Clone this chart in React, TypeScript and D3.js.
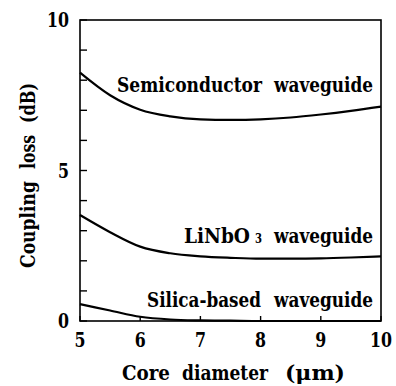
import React from "react";
import * as d3 from "d3";

const diameters = [5, 5.5, 6, 6.5, 7, 7.5, 8, 8.5, 9, 9.5, 10];
const semiconductorLoss = [8.25, 7.5, 7.02, 6.8, 6.7, 6.68, 6.7, 6.76, 6.86, 6.98, 7.12];
const linbo3Loss = [3.52, 2.95, 2.47, 2.25, 2.15, 2.1, 2.07, 2.07, 2.08, 2.11, 2.15];
const silicaLoss = [0.56, 0.35, 0.14, 0.05, 0.02, 0.01, 0, 0, 0, 0, 0];
const xTicks = [5, 6, 7, 8, 9, 10];
const yTicks = [0, 1, 2, 3, 4, 5, 6, 7, 8, 9, 10];
const yTickLabels = [0, 5, 10];

const FONT = "'DejaVu Serif Condensed', 'DejaVu Serif', serif";
const FS = 20;

function Word(props: { x: number; y: number; len: number; size?: number; anchor?: string; children: React.ReactNode }) {
  return (
    <text
      x={props.x}
      y={props.y}
      fontSize={props.size ?? FS}
      textLength={props.len}
      lengthAdjust="spacingAndGlyphs"
      textAnchor={props.anchor ?? "start"}
      style={{ fontFamily: FONT, fontWeight: 700 }}
    >
      {props.children}
    </text>
  );
}

export default function App() {
  const left = 80, right = 381, top = 20, bottom = 321;
  const x = d3.scaleLinear().domain([5, 10]).range([left, right]);
  const y = d3.scaleLinear().domain([0, 10]).range([bottom, top]);
  const line = d3
    .line<number>()
    .x((_, i) => x(diameters[i]))
    .y((d) => y(d))
    .curve(d3.curveMonotoneX);
  const series = [semiconductorLoss, linbo3Loss, silicaLoss];

  return (
    <svg width={396} height={386} style={{ position: "absolute", left: 0, top: 0, background: "#fff" }}>
      <rect x={0} y={0} width={396} height={386} fill="#fff" />
      <rect x={left} y={top} width={right - left} height={bottom - top} fill="none" stroke="#000" strokeWidth={1.6} />
      {yTicks.map((t) => (
        <line key={"yt" + t} x1={left} x2={left + 7} y1={y(t)} y2={y(t)} stroke="#000" strokeWidth={1.4} />
      ))}
      {xTicks.map((t) => (
        <line key={"xt" + t} x1={x(t)} x2={x(t)} y1={bottom} y2={bottom - 5} stroke="#000" strokeWidth={1.4} />
      ))}
      {yTickLabels.map((t) => {
        const w = String(t).length * 11;
        return (
          <Word key={"yl" + t} x={69 - w} y={y(t) + 7} len={w}>
            {t}
          </Word>
        );
      })}
      {xTicks.map((t) => {
        const w = String(t).length * 11;
        return (
          <Word key={"xl" + t} x={x(t) - w / 2} y={347} len={w}>
            {t}
          </Word>
        );
      })}
      {series.map((s, i) => (
        <path key={"s" + i} d={line(s) || ""} fill="none" stroke="#000" strokeWidth={2.2} />
      ))}
      <Word x={117} y={92} len={145}>Semiconductor</Word>
      <Word x={274} y={92} len={99}>waveguide</Word>
      <Word x={184} y={243} len={66}>LiNbO</Word>
      <Word x={255} y={243} len={7} size={13}>3</Word>
      <Word x={274} y={243} len={99}>waveguide</Word>
      <Word x={147} y={307} len={114}>Silica-based</Word>
      <Word x={274} y={307} len={99}>waveguide</Word>
      <Word x={122} y={380} len={48}>Core</Word>
      <Word x={182} y={380} len={86}>diameter</Word>
      <Word x={285} y={380} len={60}>(μm)</Word>
      <g transform="translate(35,176) rotate(-90)">
        <Word x={-92} y={0} len={87}>Coupling</Word>
        <Word x={7} y={0} len={34}>loss</Word>
        <Word x={53} y={0} len={40}>(dB)</Word>
      </g>
    </svg>
  );
}
